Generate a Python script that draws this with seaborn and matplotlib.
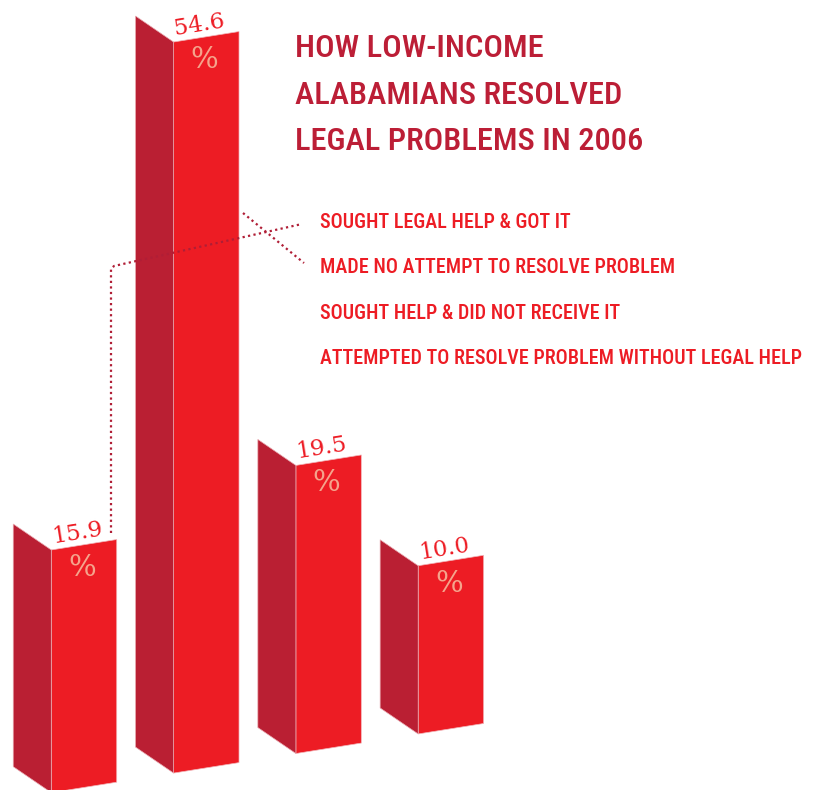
import os
import numpy as np
import pandas as pd
import matplotlib
matplotlib.use("Agg")
import matplotlib.pyplot as plt
import matplotlib.transforms as mtransforms
from matplotlib.patches import Polygon
from matplotlib import font_manager
from matplotlib.font_manager import FontProperties
import seaborn as sns

categories = ["Sought legal help & got it",
              "Made no attempt to resolve problem",
              "Sought help & did not receive it",
              "Attempted to resolve problem without legal help"]
percents = [15.9, 54.6, 19.5, 10.0]
legend_labels = [c.upper() for c in categories]
title_lines = ["HOW LOW-INCOME", "ALABAMIANS RESOLVED", "LEGAL PROBLEMS IN 2006"]

FRONT = "#ED1C24"
SIDE = "#BA1F33"
TITLE_RED = "#BC1E36"
PCT = "#F5A48C"
LEADER = "#B01E36"

W, H = 824, 790

sns.set_theme(style="white")

# the original uses a condensed gothic, use whatever narrow face is installed
files = {os.path.basename(f.fname): f.fname for f in font_manager.fontManager.ttflist}


def pick(cands, weight):
    for c in cands:
        if c in files:
            return FontProperties(fname=files[c])
    return FontProperties(family="Roboto", weight=weight)


title_fp = pick(["NotoSans-ExtraCondensedMedium.ttf", "RobotoCondensed-Medium.ttf",
                 "RobotoCondensed-Regular.ttf", "NotoSans-CondensedMedium.ttf",
                 "NotoSans-ExtraCondensed.ttf", "LiberationSansNarrow-Regular.ttf",
                 "DejaVuSansCondensed.ttf"], "medium")
legend_fp = pick(["NotoSans-ExtraCondensedSemiBold.ttf", "RobotoCondensed-Medium.ttf",
                  "RobotoCondensed-Bold.ttf", "NotoSans-CondensedSemiBold.ttf",
                  "OpenSans-CondBold.ttf", "LiberationSansNarrow-Bold.ttf",
                  "DejaVuSansCondensed-Bold.ttf"], "medium")

fig = plt.figure(figsize=(W / 100, H / 100), dpi=100)
fig.patch.set_facecolor("white")
ax = fig.add_axes([0, 0, 1, 1])

df = pd.DataFrame({"category": categories, "percent": percents})
sns.barplot(data=df, x="category", y="percent", order=categories,
            color=FRONT, saturation=1, width=0.535, errorbar=None, ax=ax)

# fake 3d: bars start below zero and the whole floor is sheared upwards to the right
floor = -3.33
k = 1.55
shear = mtransforms.Affine2D(np.array([[1, 0, 0], [k, 1, 0], [0, 0, 1]]))
tr = shear + ax.transData

fronts = list(ax.patches)
for p, v in zip(fronts, percents):
    p.set_y(floor)
    p.set_height(v - floor)
    p.set_transform(tr)
    p.set_edgecolor("#f2b6ba")
    p.set_linewidth(0.5)

# side faces to the left of each bar
dx, dy = -0.311, 2.54
for p in fronts:
    x0 = p.get_x()
    y0 = p.get_y()
    top = y0 + p.get_height()
    side = Polygon([(x0, y0), (x0, top), (x0 + dx, top + dy), (x0 + dx, y0 + dy)],
                   closed=True, facecolor=SIDE, edgecolor="#e9a9b0",
                   linewidth=0.5, transform=tr)
    ax.add_patch(side)

ax.set_xlim(-0.6868, 6.0507)
ax.set_ylim(-3.535, 59.063)
ax.set_axis_off()

# value labels follow the slope of the bar tops
angle = np.degrees(np.arctan(k * 12.62 / 122.3))
lab_tr = mtransforms.offset_copy(tr, fig=fig, x=-6, y=6, units="dots")
pct_tr = mtransforms.offset_copy(tr, fig=fig, x=-2, y=-23, units="dots")
for i, v in enumerate(percents):
    ax.text(i, v, f"{v:.1f}", transform=lab_tr, rotation=angle,
            rotation_mode="anchor", ha="center", va="baseline",
            family="DejaVu Serif", fontsize=16.5, color=FRONT)
    ax.text(i, v, "%", transform=pct_tr, ha="center", va="center",
            family="DejaVu Serif", fontsize=21, color=PCT)

# pixel coords measured from the top left corner
pix = mtransforms.Affine2D().scale(1, -1).translate(0, H)
renderer = fig.canvas.get_renderer()


def fit_width(texts, ref_idx, target):
    # scale the block so one reference line has the measured width
    w = texts[ref_idx].get_window_extent(renderer).width
    for t in texts:
        t.set_fontsize(t.get_fontsize() * target / w)


title_txt = [ax.text(295, 57 + 46.5 * j, line, transform=pix, ha="left", va="baseline",
                     fontproperties=title_fp, fontsize=24, color=TITLE_RED)
             for j, line in enumerate(title_lines)]
fit_width(title_txt, 1, 327)

legend_txt = [ax.text(320, 228 + 45.3 * j, lab, transform=pix, ha="left", va="baseline",
                      fontproperties=legend_fp, fontsize=15, color=FRONT)
              for j, lab in enumerate(legend_labels)]
fit_width(legend_txt, 3, 483)

# dotted leaders from the first two bars to their labels
ax.plot([111, 111, 114, 302], [533, 269, 266, 224], transform=pix,
        color=LEADER, lw=1.6, linestyle=(0, (1, 1.5)))
ax.plot([243, 304], [213, 263], transform=pix,
        color=LEADER, lw=1.6, linestyle=(0, (1, 1.5)))

ax.set_xlim(-0.6868, 6.0507)
ax.set_ylim(-3.535, 59.063)

fig.savefig("out.png", dpi=100, facecolor="white")
